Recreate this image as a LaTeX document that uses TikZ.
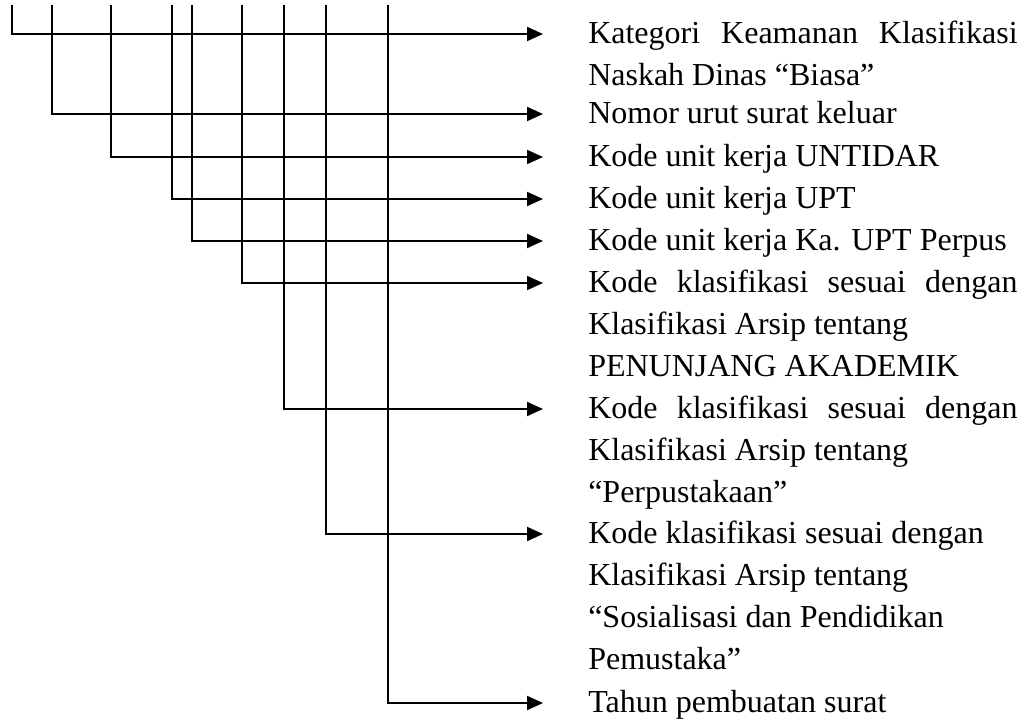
\documentclass[tikz,border=0pt]{standalone}
\usepackage{fontspec}
\setmainfont[Ligatures=NoCommon]{Liberation Serif}
\usetikzlibrary{arrows.meta}
\newcommand\jline[1]{\makebox[322pt][s]{#1}}
\begin{document}
\begin{tikzpicture}[x=0.75pt,y=-0.75pt,
  conn/.style={line width=1.5pt,-{Triangle[length=12pt,width=10.5pt]}},
  lbl/.style={anchor=base west,inner sep=0pt,align=left,
    font=\fontsize{24pt}{31.5pt}\selectfont}]
\useasboundingbox (0,0) rectangle (1035,722);
% top ends of the vertical lines
\coordinate (t1) at (12,5);
\coordinate (t2) at (52,5);
\coordinate (t3) at (111,5);
\coordinate (t4) at (172,5);
\coordinate (t5) at (192,5);
\coordinate (t6) at (242,5);
\coordinate (t7) at (284,5);
\coordinate (t8) at (326,5);
\coordinate (t9) at (388,5);
% arrow tips
\coordinate (e1) at (543,34);
\coordinate (e2) at (543,114);
\coordinate (e3) at (543,157);
\coordinate (e4) at (543,199);
\coordinate (e5) at (543,241);
\coordinate (e6) at (543,283);
\coordinate (e7) at (543,409);
\coordinate (e8) at (543,534);
\coordinate (e9) at (543,703);
% labels (anchored at the baseline of their last line)
\node[lbl] (l1) at (588,85) {\jline{Kategori Keamanan Klasifikasi}\\Naskah Dinas “Biasa”};
\node[lbl] (l2) at (588,123) {Nomor urut surat keluar};
\node[lbl] (l3) at (588,166) {Kode unit kerja UNTIDAR};
\node[lbl] (l4) at (588,208) {Kode unit kerja UPT};
\node[lbl] (l5) at (588,250) {Kode unit kerja Ka. UPT Perpus};
\node[lbl] (l6) at (588,376) {\jline{Kode klasifikasi sesuai dengan}\\Klasifikasi Arsip tentang\\PENUNJANG AKADEMIK};
\node[lbl] (l7) at (588,502) {\jline{Kode klasifikasi sesuai dengan}\\Klasifikasi Arsip tentang\\“Perpustakaan”};
\node[lbl] (l8) at (588,669) {Kode klasifikasi sesuai dengan\\Klasifikasi Arsip tentang\\“Sosialisasi dan Pendidikan\\Pemustaka”};
\node[lbl] (l9) at (588,712) {Tahun pembuatan surat};
% connectors
\foreach \i in {1,...,9}{
  \draw[conn] (t\i) |- (e\i);
}
\end{tikzpicture}
\end{document}
